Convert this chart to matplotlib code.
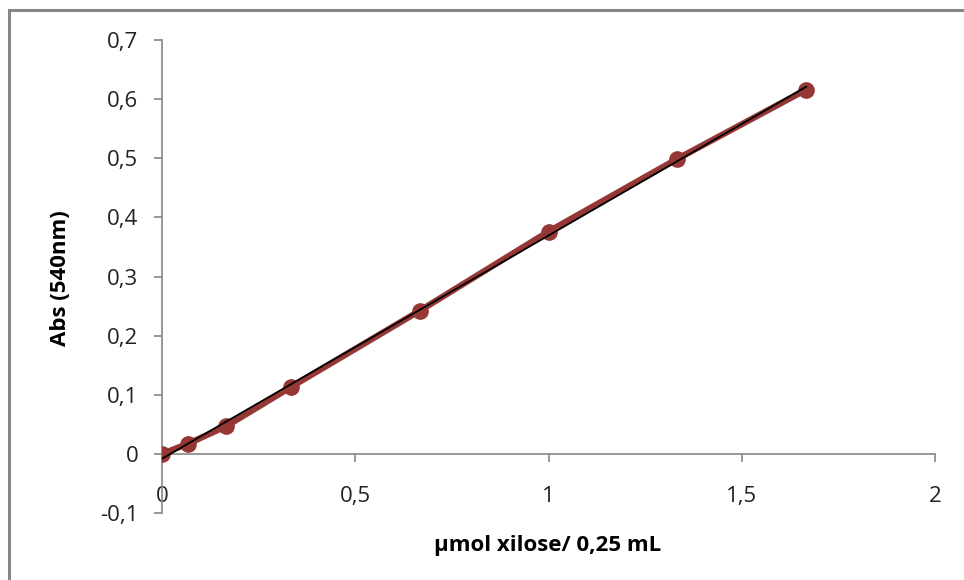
import matplotlib
matplotlib.use("Agg")
import matplotlib.pyplot as plt
import numpy as np
from matplotlib.ticker import FuncFormatter, MultipleLocator
from matplotlib.patches import Rectangle

plt.rcParams['font.family'] = ['Open Sans', 'DejaVu Sans']

# Data
xilose_umol = [0.0, 0.0667, 0.1667, 0.3333, 0.6667, 1.0, 1.3333, 1.6667]
absorbance = [0.0, 0.017, 0.047, 0.113, 0.242, 0.376, 0.499, 0.616]
x_label = "µmol xilose/ 0,25 mL"
y_label = "Abs (540nm)"

fig = plt.figure(figsize=(9.64, 5.80), dpi=100)
ax = fig.add_axes([162/964, 1-513/580, (935-162)/964, (513-40)/580])

series_color = '#953735'
ax.plot(xilose_umol, absorbance, color=series_color, lw=4.5, marker='o',
        markersize=11, markeredgecolor=series_color, solid_capstyle='round', zorder=3)

# linear trendline (least squares, as in the spreadsheet)
coef = np.polyfit(xilose_umol, absorbance, 1)
xt = np.array([min(xilose_umol), max(xilose_umol)])
ax.plot(xt, np.polyval(coef, xt), color='black', lw=1.3, zorder=4)

ax.set_xlim(0, 2)
ax.set_ylim(-0.1, 0.7)
ax.xaxis.set_major_locator(MultipleLocator(0.5))
ax.yaxis.set_major_locator(MultipleLocator(0.1))

fmt = FuncFormatter(lambda v, p: ('%g' % round(v, 3)).replace('.', ','))
ax.xaxis.set_major_formatter(fmt)
ax.yaxis.set_major_formatter(fmt)

for s in ['top', 'right']:
    ax.spines[s].set_visible(False)
ax.spines['bottom'].set_position(('data', 0))
for s in ['left', 'bottom']:
    ax.spines[s].set_color('#868686')
    ax.spines[s].set_linewidth(1.2)

ax.tick_params(axis='both', direction='out', length=6, width=1.2, color='#868686',
               labelsize=16, labelcolor='#222222')
ax.tick_params(axis='x', pad=17)
ax.tick_params(axis='y', pad=11)

fig.text(548/964, 1-545/580, x_label, ha='center', va='center',
         fontsize=16, fontweight='bold', color='black')
fig.text(61/964, 1-278/580, y_label, ha='center', va='center', rotation=90,
         fontsize=16, fontweight='bold', color='black')

fig.patches.append(Rectangle((9/964, -0.2), 2, 1 - 10/580 + 0.2, transform=fig.transFigure,
                             fill=False, edgecolor='#878787', lw=2.2))

fig.savefig('out.png', dpi=100, facecolor='white')
